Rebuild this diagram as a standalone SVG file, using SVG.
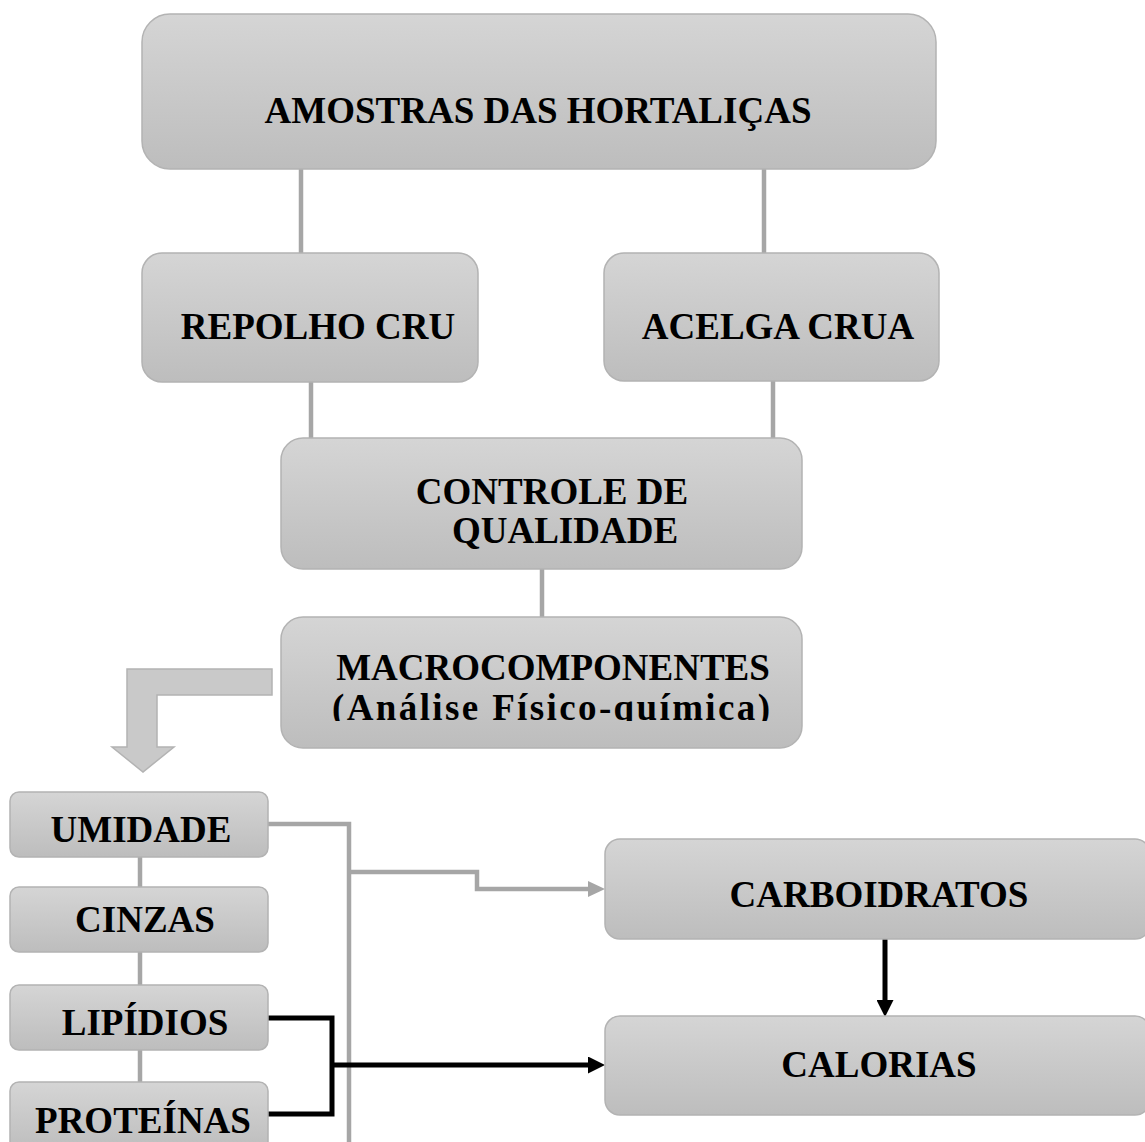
<svg xmlns="http://www.w3.org/2000/svg" width="1145" height="1142" viewBox="0 0 1145 1142">
<style>
.box{fill:url(#g);stroke:#b3b3b3;stroke-width:1.5}
.t{font-family:"Liberation Serif","Times New Roman",serif;font-weight:bold;font-size:37px;fill:#000;text-anchor:middle}
.gl{fill:none;stroke:#a6a6a6;stroke-width:4.5}
.bl{fill:none;stroke:#000;stroke-width:5}
</style>
<defs>
<linearGradient id="g" x1="0" y1="0" x2="0" y2="1">
<stop offset="0" stop-color="#d5d5d5"/>
<stop offset="1" stop-color="#bdbdbd"/>
</linearGradient>
<marker id="ag" markerUnits="userSpaceOnUse" viewBox="0 0 17 16" refX="0" refY="8" markerWidth="17" markerHeight="16" orient="auto">
<path d="M0,0 L17,8 L0,16 z" fill="#a6a6a6"/>
</marker>
<marker id="ab" markerUnits="userSpaceOnUse" viewBox="0 0 17 17" refX="0" refY="8.5" markerWidth="17" markerHeight="17" orient="auto">
<path d="M0,0 L17,8.5 L0,17 z" fill="#000"/>
</marker>
<clipPath id="mc"><rect x="281" y="617" width="521" height="104"/></clipPath>
</defs>

<g id="connectors">
<line class="gl" x1="301" y1="169" x2="301" y2="253"/>
<line class="gl" x1="764" y1="169" x2="764" y2="253"/>
<line class="gl" x1="311" y1="382" x2="311" y2="438"/>
<line class="gl" x1="773" y1="381" x2="773" y2="438"/>
<line class="gl" x1="542" y1="569" x2="542" y2="617"/>
<line class="gl" x1="140" y1="857" x2="140" y2="887"/>
<line class="gl" x1="140" y1="952" x2="140" y2="985"/>
<line class="gl" x1="140" y1="1050" x2="140" y2="1082"/>
<polyline class="gl" points="268,824 349,824 349,1142"/>
<polyline class="gl" points="349,872 477,872 477,889 588,889" marker-end="url(#ag)"/>
<polyline class="bl" points="268,1018 332,1018 332,1114 268,1114"/>
<polyline class="bl" points="332,1065 588,1065" marker-end="url(#ab)"/>
<line class="bl" x1="885" y1="939" x2="885" y2="1000" marker-end="url(#ab)"/>
<path id="bent-arrow" d="M272,669 L127,669 L127,747 L112,747 L143,772 L174,747 L157,747 L157,695 L272,695 Z" fill="#c9c9c9" stroke="#b3b3b3" stroke-width="1.5"/>
</g>

<g id="amostras">
<rect class="box" x="142" y="14" width="794" height="155" rx="28"/>
<text class="t" x="538" y="123">AMOSTRAS DAS HORTALIÇAS</text>
</g>
<g id="repolho">
<rect class="box" x="142" y="253" width="336" height="129" rx="20"/>
<text class="t" x="318" y="339">REPOLHO CRU</text>
</g>
<g id="acelga">
<rect class="box" x="604" y="253" width="335" height="128" rx="20"/>
<text class="t" x="778" y="339">ACELGA CRUA</text>
</g>
<g id="controle">
<rect class="box" x="281" y="438" width="521" height="131" rx="22"/>
<text class="t" x="552" y="504">CONTROLE DE</text>
<text class="t" x="565" y="543">QUALIDADE</text>
</g>
<g id="macro">
<rect class="box" x="281" y="617" width="521" height="131" rx="22"/>
<text class="t" x="553" y="680">MACROCOMPONENTES</text>
<text class="t" x="551" y="720" clip-path="url(#mc)" textLength="438" lengthAdjust="spacing">(Análise Físico-química)</text>
</g>
<g id="umidade">
<rect class="box" x="10" y="792" width="258" height="65" rx="9"/>
<text class="t" x="141" y="842">UMIDADE</text>
</g>
<g id="cinzas">
<rect class="box" x="10" y="887" width="258" height="65" rx="9"/>
<text class="t" x="145" y="932">CINZAS</text>
</g>
<g id="lipidios">
<rect class="box" x="10" y="985" width="258" height="65" rx="9"/>
<text class="t" x="145" y="1035">LIPÍDIOS</text>
</g>
<g id="proteinas">
<rect class="box" x="10" y="1082" width="258" height="70" rx="9"/>
<text class="t" x="143" y="1133">PROTEÍNAS</text>
</g>
<g id="carboidratos">
<rect class="box" x="605" y="839" width="545" height="100" rx="15"/>
<text class="t" x="879" y="907">CARBOIDRATOS</text>
</g>
<g id="calorias">
<rect class="box" x="605" y="1016" width="545" height="99" rx="15"/>
<text class="t" x="879" y="1077">CALORIAS</text>
</g>
</svg>
